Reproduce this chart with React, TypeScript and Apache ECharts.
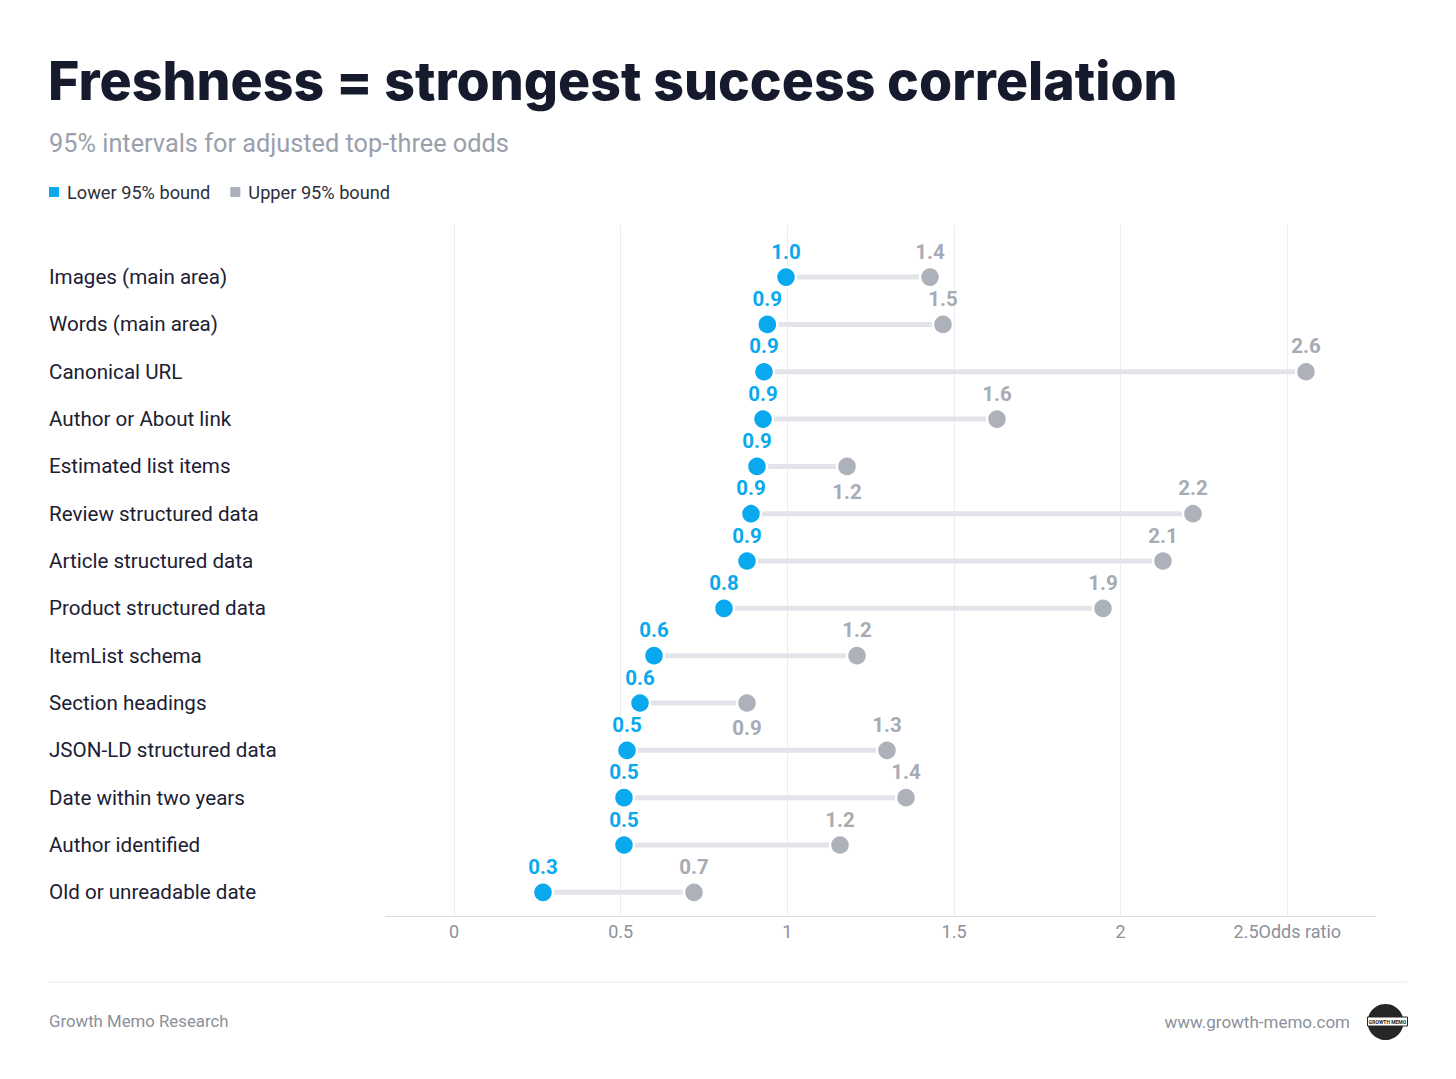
import React, { useEffect, useRef } from "react";
import * as echarts from "echarts";

const categories = [
  "Images (main area)",
  "Words (main area)",
  "Canonical URL",
  "Author or About link",
  "Estimated list items",
  "Review structured data",
  "Article structured data",
  "Product structured data",
  "ItemList schema",
  "Section headings",
  "JSON-LD structured data",
  "Date within two years",
  "Author identified",
  "Old or unreadable date",
];
const lowerBound = [0.996, 0.94, 0.93, 0.927, 0.909, 0.891, 0.879, 0.81, 0.6, 0.558, 0.519, 0.51, 0.51, 0.267];
const upperBound = [1.428, 1.467, 2.556, 1.629, 1.179, 2.217, 2.127, 1.947, 1.209, 0.879, 1.299, 1.356, 1.158, 0.72];
const xTicks = [0, 0.5, 1, 1.5, 2, 2.5];
const upperLabelBelow = ["Estimated list items", "Section headings"];

const BLUE = "#0aa8ee";
const GRAY_DOT = "#adb1b9";
const GRAY_LABEL = "#a7abb3";
const FONT = "Roboto, 'Noto Sans', sans-serif";

export default function App() {
  const ref = useRef<HTMLDivElement>(null);
  useEffect(() => {
    const chart = echarts.init(ref.current!, null, { renderer: "svg" });
    const idx = categories.map((_, i) => i);
    const option: any = {
      animation: false,
      backgroundColor: "#ffffff",
      textStyle: { fontFamily: FONT },
      grid: { left: 386, right: 81, top: 225, bottom: 163, containLabel: false },
      legend: {
        left: 44,
        top: 178,
        icon: "rect",
        itemWidth: 10,
        itemHeight: 10,
        itemGap: 20,
        data: ["Lower 95% bound", "Upper 95% bound"],
        itemStyle: { borderWidth: 0 },
        textStyle: { fontSize: 18.2, color: "#2b2f3b", fontFamily: FONT, padding: [0, 0, 0, 3] },
      },
      xAxis: {
        type: "value",
        min: -0.204,
        max: 2.763,
        axisLine: { show: true, onZero: false, lineStyle: { color: "#d8dadf", width: 1 } },
        axisTick: { show: false },
        splitLine: { show: false },
        axisLabel: {
          customValues: xTicks,
          margin: 6,
          fontSize: 18,
          color: "#8c919b",
          fontFamily: FONT,
          formatter: (v: number) => (v === xTicks[xTicks.length - 1] ? v + "Odds ratio" : String(v)),
        },
      },
      yAxis: {
        type: "value",
        inverse: true,
        min: -1.1,
        max: 13.5,
        axisLine: { show: false },
        axisTick: { show: false },
        splitLine: { show: false },
        axisLabel: {
          customValues: idx,
          align: "left",
          margin: 337,
          fontSize: 20.6,
          color: "#1c2033",
          fontFamily: FONT,
          formatter: (v: number) => categories[Math.round(v)] ?? "",
        },
      },
      series: [
        {
          type: "custom",
          name: "range",
          z: 3,
          silent: true,
          data: idx.map((i) => [lowerBound[i], upperBound[i], i]),
          encode: { x: [0, 1], y: 2 },
          renderItem: (params: any, api: any) => {
            const s = api.coord([api.value(0), api.value(2)]);
            const e = api.coord([api.value(1), api.value(2)]);
            return {
              type: "line",
              shape: { x1: s[0], y1: s[1], x2: e[0], y2: e[1] },
              style: { stroke: "#e3e4e9", lineWidth: 5 },
            };
          },
        },
        {
          type: "scatter",
          name: "Upper 95% bound",
          z: 4,
          symbol: "circle",
          symbolSize: 20,
          itemStyle: { color: GRAY_DOT, borderColor: "#ffffff", borderWidth: 2.5, opacity: 1 },
          data: idx.map((i) => ({
            value: [upperBound[i], i],
            label: { position: upperLabelBelow.includes(categories[i]) ? "bottom" : "top" },
          })),
          label: {
            show: true,
            position: "top",
            distance: 3.5,
            fontSize: 20.5,
            fontWeight: "bold",
            color: GRAY_LABEL,
            fontFamily: FONT,
            formatter: (p: any) => p.value[0].toFixed(1),
          },
          markLine: {
            silent: true,
            z: 1,
            symbol: ["none", "none"],
            label: { show: false },
            lineStyle: { color: "#ebecef", width: 1, type: "solid" },
            emphasis: { disabled: true },
            data: xTicks.map((v) => ({ xAxis: v })),
          },
        },
        {
          type: "scatter",
          name: "Lower 95% bound",
          z: 5,
          symbol: "circle",
          symbolSize: 20,
          itemStyle: { color: BLUE, borderColor: "#ffffff", borderWidth: 2.5, opacity: 1 },
          data: idx.map((i) => [lowerBound[i], i]),
          label: {
            show: true,
            position: "top",
            distance: 3.5,
            fontSize: 20.5,
            fontWeight: "bold",
            color: BLUE,
            fontFamily: FONT,
            formatter: (p: any) => p.value[0].toFixed(1),
          },
        },
      ],
      graphic: [
        {
          type: "text",
          left: 48,
          top: 53,
          style: {
            text: "Freshness = strongest success correlation",
            font: "800 53.6px Inter, 'Noto Sans', sans-serif",
            fill: "#161a2d",
          },
        },
        {
          type: "text",
          left: 49,
          top: 131,
          style: {
            text: "95% intervals for adjusted top-three odds",
            font: "25.3px Roboto, sans-serif",
            fill: "#9aa0ab",
          },
        },
        {
          type: "line",
          shape: { x1: 48, y1: 982, x2: 1407, y2: 982 },
          style: { stroke: "#e6e7ea", lineWidth: 1 },
        },
        {
          type: "text",
          left: 49,
          top: 1012,
          style: { text: "Growth Memo Research", font: "16.8px Roboto, sans-serif", fill: "#8b909a" },
        },
        {
          type: "text",
          right: 106,
          top: 1013,
          style: { text: "www.growth-memo.com", font: "17px Roboto, sans-serif", fill: "#8b909a" },
        },
        {
          type: "group",
          left: 1367,
          top: 1004,
          children: [
            { type: "circle", shape: { cx: 18, cy: 18, r: 18 }, style: { fill: "#262626" } },
            { type: "rect", shape: { x: 0, y: 13, width: 40, height: 9 }, style: { fill: "#ffffff", stroke: "#262626", lineWidth: 1 } },
            {
              type: "text",
              x: 20,
              y: 17.5,
              style: { text: "GROWTH MEMO", font: "bold 5px Roboto, sans-serif", fill: "#262626", align: "center", verticalAlign: "middle" },
            },
          ],
        },
      ],
    };
    chart.setOption(option);
    return () => chart.dispose();
  }, []);
  return (
    <div
      ref={ref}
      style={{ position: "absolute", left: 0, top: 0, width: 1456, height: 1079, background: "#ffffff" }}
    />
  );
}
